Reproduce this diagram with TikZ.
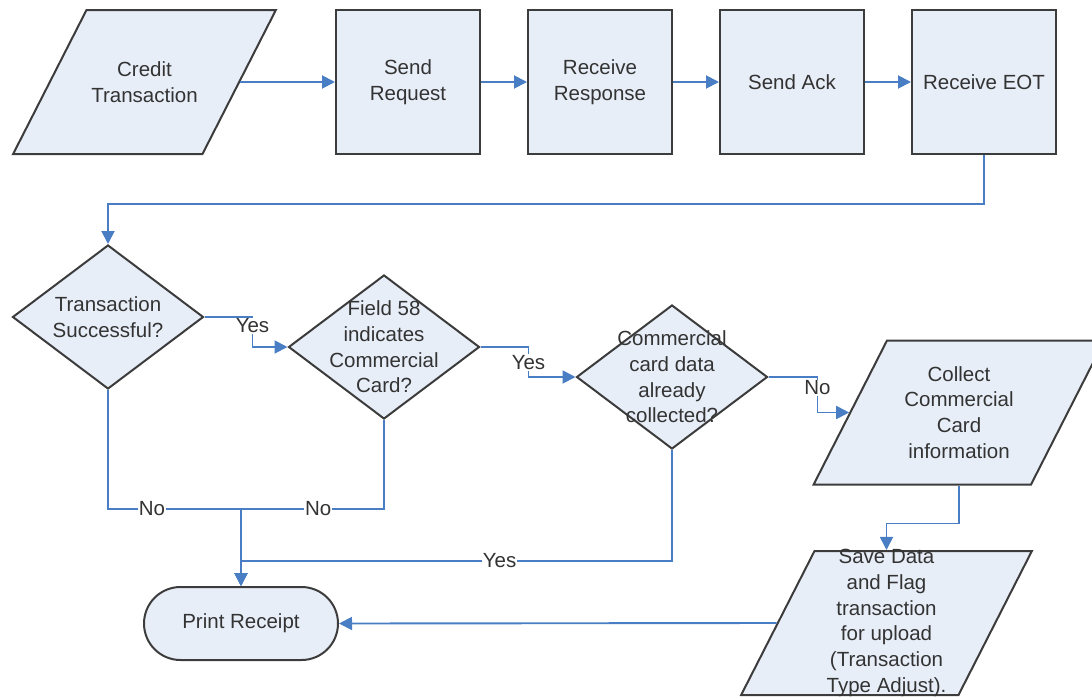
\documentclass[tikz,border=0pt]{standalone}
\usepackage{fontspec}
\setmainfont{Liberation Sans}
\usepackage{tikz}
\usetikzlibrary{calc,shapes.geometric,shapes.misc,arrows.meta}

\definecolor{boxfill}{RGB}{232,238,248}
\definecolor{boxline}{RGB}{60,60,60}
\definecolor{flowline}{RGB}{74,126,196}

\begin{document}
\begin{tikzpicture}[x=1pt, y=-1pt,
        font=\fontsize{20.5}{25.7}\selectfont,
        every node/.style={text=black!80, align=center},
        proc/.style={draw=boxline, line width=2pt, fill=boxfill, minimum width=144pt, minimum height=144pt, inner sep=0pt},
        io/.style={trapezium, trapezium left angle=63, trapezium right angle=117, draw=boxline, line width=2pt, fill=boxfill, inner ysep=72pt, inner xsep=72pt},
        decision/.style={diamond, draw=boxline, line width=2pt, fill=boxfill, minimum width=191pt, minimum height=144pt, inner sep=0pt},
        terminal/.style={rounded rectangle, draw=boxline, line width=2pt, fill=boxfill, minimum width=194pt, minimum height=73pt, inner sep=0pt},
        flow/.style={draw=flowline, line width=1.9pt, -{Triangle[length=13pt, width=13pt]}},
        lbl/.style={fill=white, inner sep=1pt}]
            \useasboundingbox (0, 0) rectangle (1092, 696);
            \clip (0, 0) rectangle (1092, 696);

            \node [io, inner xsep=58pt, label={center:Credit\\Transaction}] (credit) at (144.5, 82) {};
            \node [proc] (sendreq) at (408, 82) {Send\\Request};
            \node [proc] (recvresp) at ($(sendreq) + (192, 0)$) {Receive\\Response};
            \node [proc] (sendack) at ($(recvresp) + (192, 0)$) {Send Ack};
            \node [proc] (recveot) at ($(sendack) + (192, 0)$) {Receive EOT};

            \node [decision, label={center:Transaction\\Successful?}] (trans) at (108, 317) {};
            \node [decision, label={center:Field 58\\indicates\\Commercial\\Card?}] (field) at ($(trans) + (276, 30)$) {};
            \node [decision, label={center:Commercial\\card data\\already\\collected?}] (collected) at ($(field) + (288, 30)$) {};
            \node [io, label={center:Collect\\Commercial\\Card\\information}] (collect) at (959, 412.5) {};
            \node [io, label={center:Save Data\\and Flag\\transaction\\for upload\\(Transaction\\Type Adjust).}] (save) at (886.5, 623) {};
            \node [terminal] (print) at (241, 623.5) {Print Receipt};

            \coordinate (nojoin) at (print.north |- 0, 509);
            \coordinate (yesjoin) at (print.north |- 0, 561);

            \draw [flow] (credit.east) -- (sendreq);
            \draw [flow] (sendreq) -- (recvresp);
            \draw [flow] (recvresp) -- (sendack);
            \draw [flow] (sendack) -- (recveot);
            \draw [flow] (recveot.south) -- ++(0, 49) -| (trans.north);
            \draw [flow] (trans.east) -- ++(48, 0) |- node [lbl, pos=0.15] {Yes} (field.west);
            \draw [flow] (field.east) -- ++(48, 0) |- node [lbl, pos=0.26] {Yes} (collected.west);
            \draw [flow] (collected.east) -- ++(49, 0) |- node [lbl, pos=0.15] {No} (collect.west);
            \draw [flow] (trans.south) |- node [lbl, pos=0.665] {No} (nojoin) -- (print.north);
            \draw [flow] (field.south) |- node [lbl, pos=0.73] {No} (nojoin) -- (print.north);
            \draw [flow] (collected.south) |- node [lbl, pos=0.7] {Yes} (yesjoin) -- (print.north);
            \draw [flow] (collect.center |- collect.south) -- ++(0, 38) -| (save.center |- save.north);
            \draw [flow] (save.west) -- (print.east);
        \end{tikzpicture}
\end{document}
